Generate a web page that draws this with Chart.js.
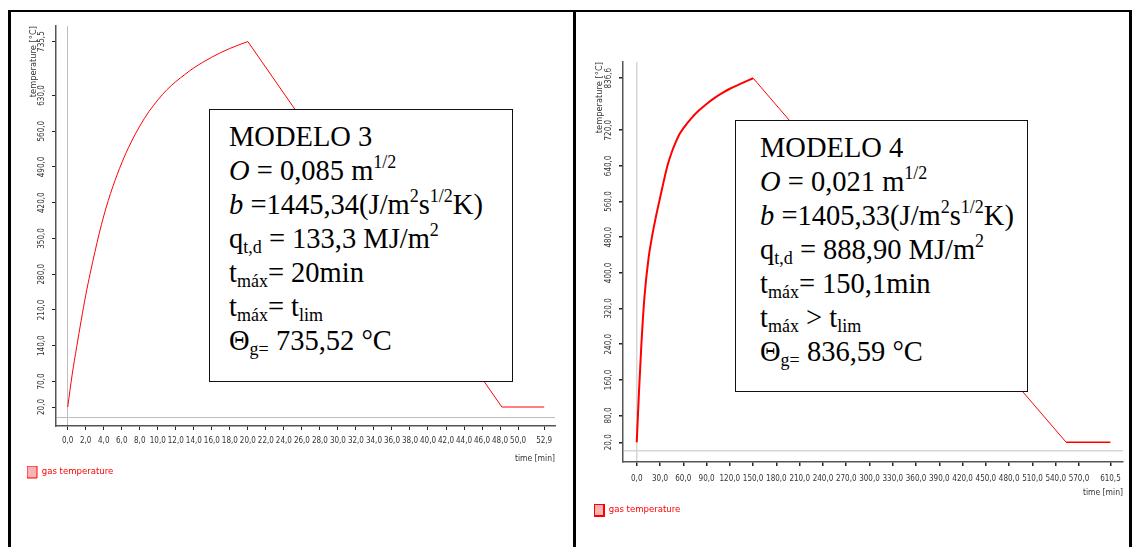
<!DOCTYPE html>
<html>
<head>
<meta charset="utf-8">
<script src="https://cdn.jsdelivr.net/npm/chart.js@4.4.0/dist/chart.umd.min.js"></script>
<style>
  html, body { margin: 0; padding: 0; background: #fff; }
  #page { position: relative; width: 1134px; height: 547px; overflow: hidden; }
  .rule { position: absolute; background: #000; }
  canvas { position: absolute; top: 0; }
  #chart3 { left: 0; }
  #chart4 { left: 577px; }
  .box {
    position: absolute; background: #fff; border: 1.5px solid #111; box-sizing: border-box;
    font-family: "Liberation Serif", "Times New Roman", serif; font-size: 28.5px; line-height: 34px;
    color: #000; padding-top: 9.5px; white-space: nowrap;
  }
  .box sup, .box sub { font-size: 18px; line-height: 0; position: relative; vertical-align: baseline; }
  .box sup { top: -12px; }
  .box sub { top: 5px; }
</style>
</head>
<body>
<div id="page">
  <div class="rule" style="left:8px;top:10px;width:1124px;height:2px"></div>
  <div class="rule" style="left:8px;top:10px;width:3px;height:537px"></div>
  <div class="rule" style="left:573px;top:10px;width:3px;height:537px"></div>
  <div class="rule" style="left:1129px;top:10px;width:3px;height:537px"></div>

  <canvas id="chart3" width="570" height="547"></canvas>
  <canvas id="chart4" width="557" height="547"></canvas>

  <div class="box" style="left:209px;top:109px;width:304px;height:273px;padding-left:19px">
    MODELO 3<br>
    <i>O</i> = 0,085 m<sup>1/2</sup><br>
    <i>b</i> =1445,34(J/m<sup>2</sup>s<sup>1/2</sup>K)<br>
    q<sub>t,d</sub> = 133,3 MJ/m<sup>2</sup><br>
    t<sub>máx</sub>= 20min<br>
    t<sub>máx</sub>= t<sub>lim</sub><br>
    Θ<sub>g=</sub> 735,52 °C
  </div>

  <div class="box" style="left:735px;top:120px;width:293px;height:272px;padding-left:24px">
    MODELO 4<br>
    <i>O</i> = 0,021 m<sup>1/2</sup><br>
    <i>b</i> =1405,33(J/m<sup>2</sup>s<sup>1/2</sup>K)<br>
    q<sub>t,d</sub> = 888,90 MJ/m<sup>2</sup><br>
    t<sub>máx</sub>= 150,1min<br>
    t<sub>máx</sub> &gt; t<sub>lim</sub><br>
    Θ<sub>g=</sub> 836,59 °C
  </div>
</div>

<script>
// modelo 3 (time in min, gas temperature in °C)
const leftTime = [0, 0.5, 1, 1.5, 2, 2.5, 3, 3.5, 4, 4.5, 5, 6, 7, 8, 9, 10, 11, 12, 13, 14, 15, 16, 17, 18, 19, 20, 48.2, 52.9];
const leftTemp = [20, 84, 138, 190, 239, 282, 322, 360, 394, 424, 451, 498, 537, 570, 598, 621, 641, 657, 671, 684, 695, 705, 714, 722, 729, 735.5, 20, 20];
const leftXTicks = [0, 2, 4, 6, 8, 10, 12, 14, 16, 18, 20, 22, 24, 26, 28, 30, 32, 34, 36, 38, 40, 42, 44, 46, 48, 50, 52.9];
const leftYTicks = [20, 70, 140, 210, 280, 350, 420, 490, 560, 630, 735.5];

// modelo 4
const rightTime = [0, 3, 6, 10, 15, 20, 25, 30, 35, 40, 45, 50, 55, 60, 70, 80, 90, 100, 110, 120, 135, 150.1, 553.5, 610.5];
const rightTemp = [20, 137, 240, 347, 430, 484, 528, 568, 607, 643, 670, 692, 711, 724, 746, 764, 779, 792, 803, 813, 825, 836.6, 20, 20];
const rightXTicks = [0, 30, 60, 90, 120, 150, 180, 210, 240, 270, 300, 330, 360, 390, 420, 450, 480, 510, 540, 570, 610.5];
const rightYTicks = [20, 80, 160, 240, 320, 400, 480, 560, 640, 720, 836.6];

const seriesName = 'gas temperature';
const narrow = '"Liberation Sans Narrow", "DejaVu Sans Condensed", "Arial Narrow", sans-serif';
const clear = 'rgba(0,0,0,0)';

function fmt(v) {
  return v.toFixed(1).replace('.', ',');
}

function makeChart(id, o) {
  const pts = o.time.map((t, i) => ({ x: t, y: o.temp[i] }));
  const peak = o.temp.indexOf(Math.max(...o.temp));
  const heating = pts.slice(0, peak + 1);
  const cooling = pts.slice(peak);
  const yAll = [0].concat(o.yTicks);

  return new Chart(document.getElementById(id), {
    type: 'line',
    data: {
      datasets: [{
        label: seriesName,
        data: heating,
        borderColor: '#ff0000',
        backgroundColor: '#f8b4b4',
        borderWidth: o.heatWidth,
        pointRadius: 0,
        cubicInterpolationMode: 'monotone'
      }, {
        label: seriesName + ' (cooling)',
        data: cooling,
        borderColor: '#ff0000',
        borderWidth: 1,
        pointRadius: 0,
        tension: 0,
        segment: {
          borderWidth: ctx => ctx.p1DataIndex === cooling.length - 1 ? o.flatWidth : 1
        }
      }]
    },
    options: {
      responsive: false,
      animation: false,
      layout: { padding: o.padding },
      plugins: {
        tooltip: { enabled: false },
        legend: {
          position: 'bottom',
          align: 'start',
          labels: {
            boxWidth: 10, boxHeight: 12, padding: 0,
            color: '#ff0000',
            font: { family: narrow, size: 9.5 },
            filter: item => item.datasetIndex === 0
          }
        }
      },
      scales: {
        x: {
          type: 'linear',
          min: o.xMin, max: o.xMax,
          afterBuildTicks: s => { s.ticks = o.xTicks.map(v => ({ value: v })); },
          afterFit: s => { s.height = o.xHeight; },
          ticks: {
            callback: v => fmt(v),
            autoSkip: false, maxRotation: 0, minRotation: 0,
            padding: o.xPad,
            color: '#333',
            font: { family: narrow, size: 8 }
          },
          grid: {
            color: c => c.tick && c.tick.value === 0 ? o.zeroColor : clear,
            lineWidth: o.zeroWidth,
            tickColor: '#222',
            tickLength: 4
          },
          border: { color: '#555', width: 1.5 },
          title: {
            display: true, text: 'time [min]', align: 'end',
            color: '#333', font: { family: narrow, size: 8.5 },
            padding: { top: 0, bottom: o.xTitlePad }
          }
        },
        y: {
          type: 'linear',
          min: o.yMin, max: o.yMax,
          afterBuildTicks: s => { s.ticks = yAll.map(v => ({ value: v })); },
          afterFit: s => { s.width = o.yWidth; },
          ticks: {
            callback: v => o.yTicks.includes(v) ? fmt(v) : '',
            autoSkip: false, minRotation: 90, maxRotation: 90,
            crossAlign: 'center',
            padding: o.yPad,
            color: '#333',
            font: { family: narrow, size: 8 }
          },
          grid: {
            color: c => c.tick && c.tick.value === 0 ? o.zeroColor : clear,
            lineWidth: o.zeroWidth,
            tickColor: c => c.tick && c.tick.value === 0 ? clear : '#222',
            tickLength: 4
          },
          border: { color: '#555', width: 1.5 },
          title: {
            display: true, text: 'temperature [°C]', align: 'end',
            color: '#333', font: { family: '"DejaVu Sans", sans-serif', size: 8.3 },
            padding: { top: o.yTitlePad, bottom: 0 }
          }
        }
      }
    }
  });
}

makeChart('chart3', {
  time: leftTime, temp: leftTemp, xTicks: leftXTicks, yTicks: leftYTicks,
  xMin: -1.3, xMax: 54.1, yMin: -17.2, yMax: 766,
  padding: { left: 27, right: 15, top: 26, bottom: 59 },
  yWidth: 29, xHeight: 40, xPad: 6.5, yPad: 0, xTitlePad: 2, yTitlePad: 2,
  heatWidth: 1, flatWidth: 1, zeroColor: '#bdbdbd', zeroWidth: 1
});

makeChart('chart4', {
  time: rightTime, temp: rightTemp, xTicks: rightXTicks, yTicks: rightYTicks,
  xMin: -17.7, xMax: 626.7, yMin: -24.2, yMax: 873,
  padding: { left: 17, right: 11, top: 62, bottom: 21 },
  yWidth: 29, xHeight: 42, xPad: 8, yPad: 0, xTitlePad: 6, yTitlePad: 1,
  heatWidth: 2, flatWidth: 1.5, zeroColor: '#d6d6d6', zeroWidth: 1.5
});
</script>
</body>
</html>
